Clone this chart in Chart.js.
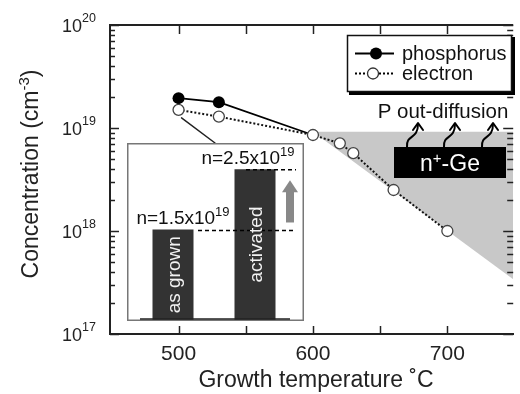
<!DOCTYPE html>
<html><head><meta charset="utf-8">
<script src="https://cdn.jsdelivr.net/npm/chart.js@4.4.1/dist/chart.umd.min.js"></script>
<style>
html,body{margin:0;padding:0;background:#fff;}
#wrap{position:relative;width:520px;height:394px;overflow:hidden;}
#main{position:absolute;left:0;top:0;}
#inset{position:absolute;left:127px;top:143px;}
</style></head><body>
<div id="wrap"><canvas id="main" width="520" height="394"></canvas><canvas id="inset" width="177" height="178"></canvas></div>
<script>
// ---- data ----
const phosTemps = [500, 530, 600];
const phosConc = [1.95e19, 1.78e19, 8.55e18];
const elecTemps = [500, 530, 600, 620, 630, 660, 700];
const elecConc = [1.5e19, 1.29e19, 8.55e18, 7.1e18, 5.7e18, 2.5e18, 1.0e18];
const outDiffTemps = [600, 749];
const outDiffConc = [9.2e18, 3.4e17];
const outDiffTop = 9.2e18;
const xTickValues = [500, 600, 700];
const xAllTicks = [500, 550, 600, 650, 700];
const yTickValues = [1e17, 1e18, 1e19, 1e20];
const yTickExps = ['17', '18', '19', '20'];
const insetLabels = ['as grown', 'activated'];
const insetValues = [1.5e19, 2.5e19];
const insetNText = ['n=1.5x10', 'n=2.5x10'];
const insetNExp = ['19', '19'];
const legendNames = ['phosphorus', 'electron'];

const FONT = '"Liberation Sans", Arial, Helvetica, sans-serif';

function drawRich(ctx, parts, x, y, align) {
  let total = 0; const ws = [];
  parts.forEach(p => { ctx.font = p.size + 'px ' + FONT; const w = ctx.measureText(p.t).width; ws.push(w); total += w; });
  let cx = align === 'center' ? x - total / 2 : (align === 'right' ? x - total : x);
  ctx.textAlign = 'left'; ctx.textBaseline = 'alphabetic';
  parts.forEach((p, i) => { ctx.font = p.size + 'px ' + FONT; ctx.fillText(p.t, cx, y - (p.rise || 0)); cx += ws[i]; });
}

function squiggle(ctx, x0, y0) {
  ctx.beginPath();
  ctx.moveTo(x0, y0);
  ctx.bezierCurveTo(x0 - 1, y0 - 13, x0 + 11, y0 - 7, x0 + 11, y0 - 23);
  ctx.stroke();
  ctx.beginPath();
  ctx.moveTo(x0 + 6, y0 - 17);
  ctx.lineTo(x0 + 11, y0 - 24);
  ctx.lineTo(x0 + 16, y0 - 17);
  ctx.stroke();
}

const mainPlugin = {
  id: 'mainDeco',
  beforeDraw(chart) {
    const ctx = chart.ctx; ctx.save(); ctx.fillStyle = '#fff'; ctx.fillRect(0, 0, chart.width, chart.height); ctx.restore();
  },
  afterDatasetsDraw(chart) {
    const ctx = chart.ctx; const x = chart.scales.x, y = chart.scales.y;
    ctx.save();
    // n+-Ge block
    ctx.fillStyle = '#000';
    ctx.fillRect(394, 147, 112, 31);
    ctx.fillStyle = '#fff';
    drawRich(ctx, [{t: 'n', size: 23}, {t: '+', size: 15, rise: 8}, {t: '-Ge', size: 23}], 450, 171, 'center');
    // out-diffusion arrows
    ctx.strokeStyle = '#000'; ctx.lineWidth = 2; ctx.lineCap = 'round'; ctx.lineJoin = 'round';
    [407, 444, 482].forEach(px => squiggle(ctx, px, 147));
    ctx.fillStyle = '#111';
    drawRich(ctx, [{t: 'P out-diffusion', size: 20.5}], 443, 117.5, 'center');
    // pointer from inset to as-grown point
    const px = x.getPixelForValue(elecTemps[0]), py = y.getPixelForValue(elecConc[0]);
    ctx.lineWidth = 1.5; ctx.strokeStyle = '#222';
    ctx.beginPath(); ctx.moveTo(215, 143); ctx.lineTo(px + 3, py + 8); ctx.stroke();
    ctx.restore();
  },
  afterDraw(chart) {
    const ctx = chart.ctx; const x = chart.scales.x, y = chart.scales.y; const ca = chart.chartArea;
    ctx.save();
    ctx.strokeStyle = '#222'; ctx.lineWidth = 2;
    ctx.beginPath(); ctx.moveTo(ca.left - 1, ca.top); ctx.lineTo(ca.right, ca.top); ctx.stroke();
    ctx.lineWidth = 1.5;
    // x ticks (inward, top and bottom)
    xAllTicks.forEach(v => {
      const px = Math.round(x.getPixelForValue(v)) + 0.5;
      ctx.beginPath(); ctx.moveTo(px, ca.bottom); ctx.lineTo(px, ca.bottom - 8); ctx.stroke();
      ctx.beginPath(); ctx.moveTo(px, ca.top); ctx.lineTo(px, ca.top + 9); ctx.stroke();
    });
    // y ticks log
    for (let d = 17; d <= 20; d++) {
      for (let m = 1; m <= 9; m++) {
        const v = m * Math.pow(10, d);
        if (v > 1e20 * 1.0001) break;
        const py = Math.round(y.getPixelForValue(v)) + 0.5;
        const len = m === 1 ? 9 : 5;
        ctx.beginPath(); ctx.moveTo(ca.left, py); ctx.lineTo(ca.left + len, py); ctx.stroke();
        ctx.beginPath(); ctx.moveTo(ca.right, py); ctx.lineTo(ca.right - len - 1, py); ctx.stroke();
      }
    }
    // tick labels
    ctx.fillStyle = '#222';
    yTickValues.forEach((v, i) => {
      const py = y.getPixelForValue(v);
      drawRich(ctx, [{t: '10', size: 18}, {t: yTickExps[i], size: 12.5, rise: 10}], 96, py + 7, 'right');
    });
    xTickValues.forEach(v => {
      drawRich(ctx, [{t: String(v), size: 21}], x.getPixelForValue(v), 360, 'center');
    });
    // axis titles
    drawRich(ctx, [{t: 'Growth temperature \u02DAC', size: 23}], 316, 387, 'center');
    ctx.save();
    ctx.translate(38, 174); ctx.rotate(-Math.PI / 2);
    drawRich(ctx, [{t: 'Concentration (cm', size: 23}, {t: '-3', size: 15, rise: 9}, {t: ')', size: 23}], 0, 0, 'center');
    ctx.restore();
    // legend
    ctx.fillStyle = '#000'; ctx.fillRect(349, 37, 166, 58);
    ctx.fillStyle = '#fff'; ctx.fillRect(347, 35, 165, 57);
    ctx.strokeStyle = '#111'; ctx.lineWidth = 1.5; ctx.strokeRect(347.5, 35.5, 164, 56);
    ctx.lineWidth = 1.8; ctx.strokeStyle = '#000';
    ctx.beginPath(); ctx.moveTo(355, 53.5); ctx.lineTo(394, 53.5); ctx.stroke();
    ctx.fillStyle = '#000'; ctx.beginPath(); ctx.arc(376, 53.5, 6, 0, Math.PI * 2); ctx.fill();
    ctx.setLineDash([2, 2]); ctx.lineWidth = 2;
    ctx.beginPath(); ctx.moveTo(355, 73.5); ctx.lineTo(394, 73.5); ctx.stroke();
    ctx.setLineDash([]);
    ctx.fillStyle = '#fff'; ctx.strokeStyle = '#333'; ctx.lineWidth = 1.3;
    ctx.beginPath(); ctx.arc(373, 73.5, 5.5, 0, Math.PI * 2); ctx.fill(); ctx.stroke();
    ctx.fillStyle = '#111';
    drawRich(ctx, [{t: legendNames[0], size: 20}], 402, 60, 'left');
    drawRich(ctx, [{t: legendNames[1], size: 20}], 402, 80, 'left');
    ctx.restore();
  }
};

new Chart(document.getElementById('main'), {
  type: 'scatter',
  data: {
    datasets: [
      {
        label: 'phosphorus', order: 2,
        data: phosTemps.map((t, i) => ({x: t, y: phosConc[i]})),
        showLine: true, borderColor: '#000', borderWidth: 1.8,
        pointRadius: [6, 6, 0], pointBackgroundColor: '#000', pointBorderColor: '#000', pointBorderWidth: 0
      },
      {
        label: 'electron', order: 1,
        data: elecTemps.map((t, i) => ({x: t, y: elecConc[i]})),
        showLine: true, borderColor: '#111', borderWidth: 2, borderDash: [2, 2],
        pointRadius: 5.5, pointBackgroundColor: '#fff', pointBorderColor: '#444', pointBorderWidth: 1.3
      },
      {
        label: 'out-diffusion', order: 3,
        data: outDiffTemps.map((t, i) => ({x: t, y: outDiffConc[i]})),
        showLine: true, borderWidth: 0, borderColor: 'rgba(0,0,0,0)', pointRadius: 0,
        fill: {value: outDiffTop}, backgroundColor: '#c8c8c8'
      }
    ]
  },
  options: {
    responsive: false, animation: false, devicePixelRatio: 1,
    layout: {padding: {top: 25, right: 0, left: 0, bottom: 0}},
    plugins: {legend: {display: false}, tooltip: {enabled: false}, filler: {propagate: false}},
    scales: {
      x: {type: 'linear', min: 449, max: 749, grid: {display: false}, ticks: {display: false},
          border: {display: true, color: '#222', width: 2}, afterFit: s => { s.height = 60; }},
      y: {type: 'logarithmic', min: 1e17, max: 1e20, grid: {display: false}, ticks: {display: false},
          border: {display: true, color: '#222', width: 2}, afterFit: s => { s.width = 110; }}
    }
  },
  plugins: [mainPlugin]
});

const insetPlugin = {
  id: 'insetDeco',
  beforeDraw(chart) {
    const ctx = chart.ctx; ctx.save(); ctx.fillStyle = '#fff'; ctx.fillRect(0, 0, chart.width, chart.height); ctx.restore();
  },
  afterDraw(chart) {
    const ctx = chart.ctx; const x = chart.scales.x, y = chart.scales.y;
    ctx.save();
    ctx.strokeStyle = '#777'; ctx.lineWidth = 1.5;
    ctx.strokeRect(0.75, 0.75, chart.width - 1.5, chart.height - 1.5);
    ctx.strokeStyle = '#222'; ctx.lineWidth = 1.5;
    ctx.beginPath(); ctx.moveTo(13, chart.chartArea.bottom - 1); ctx.lineTo(163, chart.chartArea.bottom - 1); ctx.stroke();
    const c0 = x.getPixelForValue(0), c1 = x.getPixelForValue(1);
    const y0 = y.getPixelForValue(insetValues[0]), y1 = y.getPixelForValue(insetValues[1]);
    // dashed reference lines
    ctx.setLineDash([4, 3]); ctx.strokeStyle = '#000'; ctx.lineWidth = 1.5;
    ctx.beginPath(); ctx.moveTo(c0 + 25, y0 + 1); ctx.lineTo(169, y0 + 1); ctx.stroke();
    ctx.beginPath(); ctx.moveTo(c1 - 9, y1 + 0.5); ctx.lineTo(169, y1 + 0.5); ctx.stroke();
    ctx.setLineDash([]);
    // gray arrow
    const ax = 163, aBase = y0 - 7, aTip = y1 + 11;
    ctx.fillStyle = '#888';
    ctx.fillRect(ax - 4, aTip + 11, 8, aBase - aTip - 11);
    ctx.beginPath(); ctx.moveTo(ax - 8, aTip + 12); ctx.lineTo(ax, aTip); ctx.lineTo(ax + 8, aTip + 12); ctx.closePath(); ctx.fill();
    // n labels
    ctx.fillStyle = '#111';
    drawRich(ctx, [{t: insetNText[0], size: 19}, {t: insetNExp[0], size: 13, rise: 8}], c0 + 10, y0 - 5, 'center');
    drawRich(ctx, [{t: insetNText[1], size: 19}, {t: insetNExp[1], size: 13, rise: 8}], c1 - 7, y1 - 5, 'center');
    // bar texts
    ctx.fillStyle = '#f2f2f2';
    const bottom = chart.chartArea.bottom;
    [[c0, (y0 + bottom) / 2], [c1, (y1 + bottom) / 2]].forEach((p, i) => {
      ctx.save(); ctx.translate(p[0] + 7, p[1]); ctx.rotate(-Math.PI / 2);
      drawRich(ctx, [{t: insetLabels[i], size: 19}], 0, 0, 'center');
      ctx.restore();
    });
    ctx.restore();
  }
};

new Chart(document.getElementById('inset'), {
  type: 'bar',
  data: {labels: insetLabels, datasets: [{data: insetValues, backgroundColor: '#333', borderWidth: 0, barPercentage: 0.5, categoryPercentage: 1}]},
  options: {
    responsive: false, animation: false, devicePixelRatio: 1,
    layout: {padding: {left: 5, right: 8, top: 2, bottom: 1}},
    plugins: {legend: {display: false}, tooltip: {enabled: false}},
    scales: {x: {display: false}, y: {display: false, min: 0, max: 2.9e19}}
  },
  plugins: [insetPlugin]
});
</script>
</body></html>
